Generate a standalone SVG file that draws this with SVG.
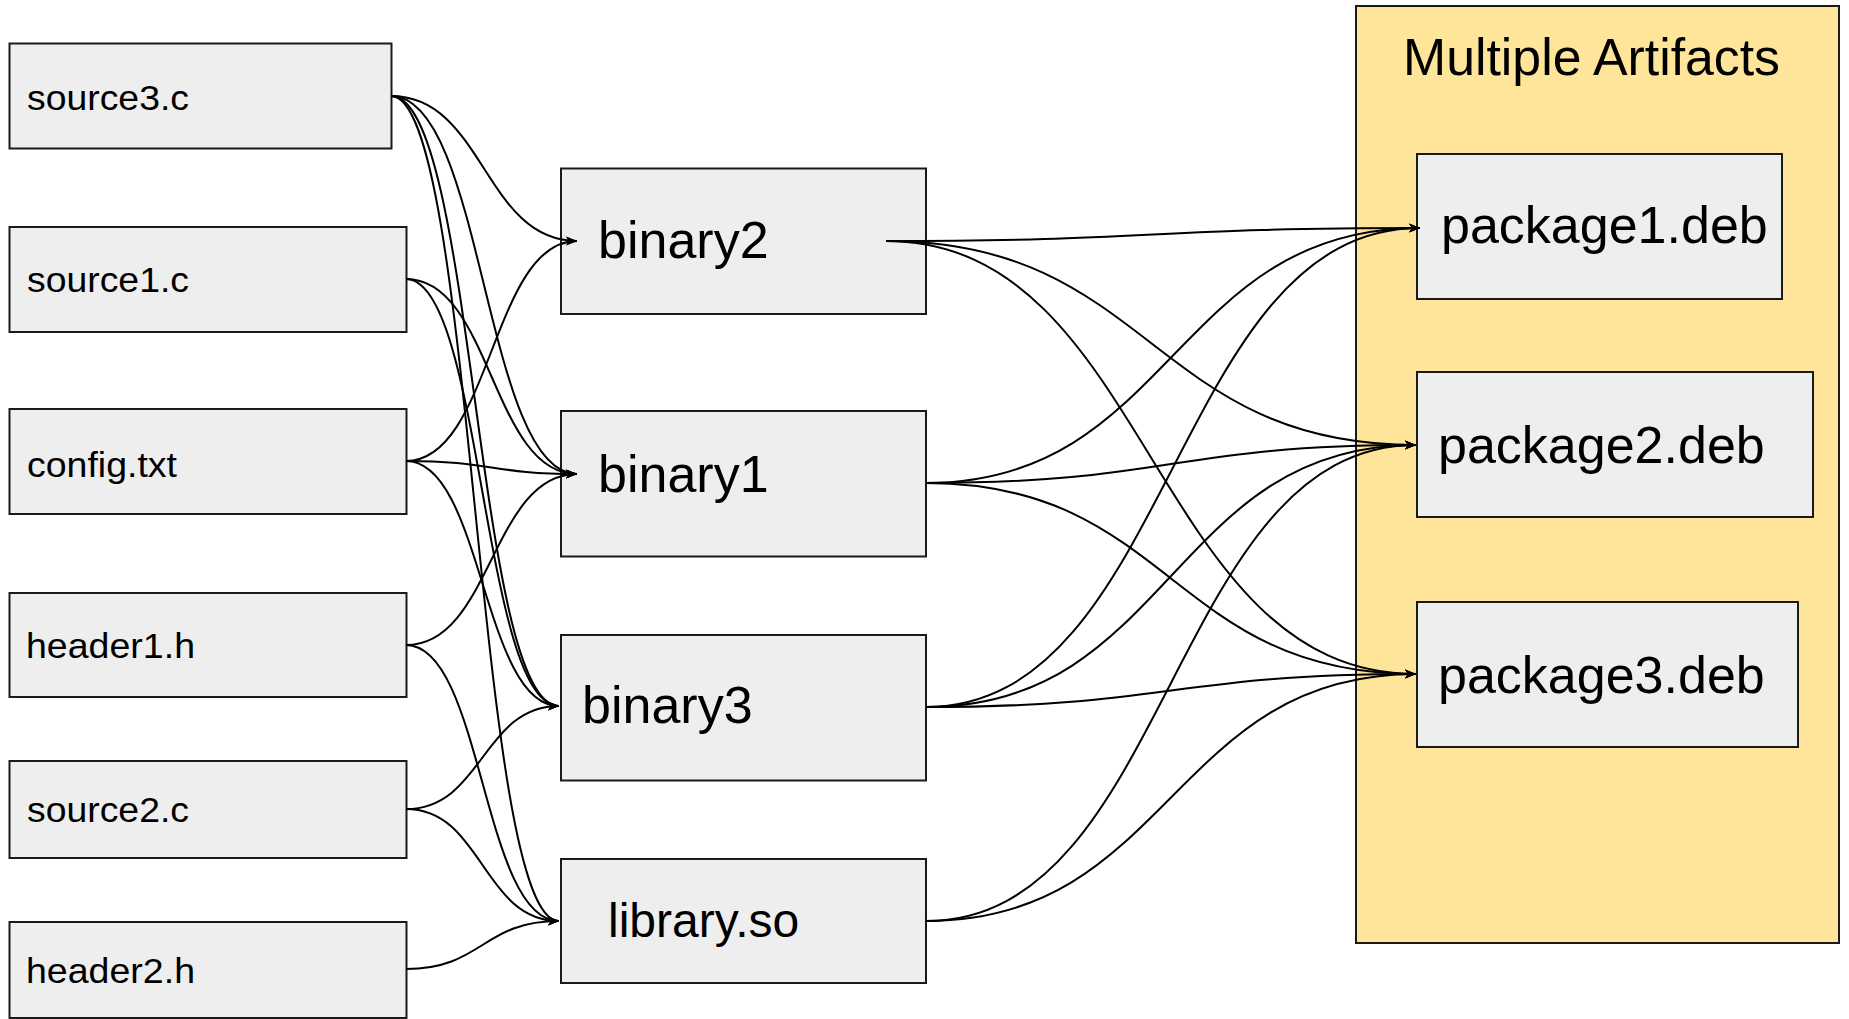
<svg xmlns="http://www.w3.org/2000/svg" width="1849" height="1019" viewBox="0 0 1849 1019">
  <style>
    .box { fill: #eeeeee; stroke: #1a1a1a; stroke-width: 2; }
    .group { fill: #ffe599; stroke: #1a1a1a; stroke-width: 2; }
    .src { font-family: "Liberation Sans", Arial, sans-serif; font-size: 35px; fill: #000; }
    .big { font-family: "Liberation Sans", Arial, sans-serif; font-size: 52px; fill: #000; }
    .edge { fill: none; stroke: #000; stroke-width: 2; marker-end: url(#arrow); }
  </style>
  <defs>
    <marker id="arrow" markerUnits="userSpaceOnUse" markerWidth="12" markerHeight="10" refX="11" refY="5" orient="auto">
      <path d="M0,0.5 L11,5 L0,9.5 L3,5 z" fill="#000"/>
    </marker>
  </defs>

  <rect width="1849" height="1019" fill="#ffffff"/>

  <!-- artifact container -->
  <g id="artifacts">
    <rect class="group" x="1356" y="6" width="483" height="937"/>
    <text class="big" x="1403" y="75" textLength="377" lengthAdjust="spacingAndGlyphs">Multiple Artifacts</text>
  </g>

  <!-- inputs -->
  <g id="source3">
    <rect class="box" x="9.5" y="43.5" width="382" height="105"/>
    <text class="src" x="27" y="110" textLength="162" lengthAdjust="spacingAndGlyphs">source3.c</text>
  </g>
  <g id="source1">
    <rect class="box" x="9.5" y="227" width="397" height="105"/>
    <text class="src" x="27" y="292" textLength="162" lengthAdjust="spacingAndGlyphs">source1.c</text>
  </g>
  <g id="config">
    <rect class="box" x="9.5" y="409" width="397" height="105"/>
    <text class="src" x="27" y="477" textLength="150" lengthAdjust="spacingAndGlyphs">config.txt</text>
  </g>
  <g id="header1">
    <rect class="box" x="9.5" y="593" width="397" height="104"/>
    <text class="src" x="26" y="658" textLength="169" lengthAdjust="spacingAndGlyphs">header1.h</text>
  </g>
  <g id="source2">
    <rect class="box" x="9.5" y="761" width="397" height="97"/>
    <text class="src" x="27" y="822" textLength="162" lengthAdjust="spacingAndGlyphs">source2.c</text>
  </g>
  <g id="header2">
    <rect class="box" x="9.5" y="922" width="397" height="96"/>
    <text class="src" x="26" y="983" textLength="169" lengthAdjust="spacingAndGlyphs">header2.h</text>
  </g>

  <!-- build outputs -->
  <g id="binary2">
    <rect class="box" x="561" y="168.5" width="365" height="145.5"/>
    <text class="big" x="598" y="258">binary2</text>
  </g>
  <g id="binary1">
    <rect class="box" x="561" y="411" width="365" height="145.5"/>
    <text class="big" x="598" y="492">binary1</text>
  </g>
  <g id="binary3">
    <rect class="box" x="561" y="635" width="365" height="145.5"/>
    <text class="big" x="582" y="723">binary3</text>
  </g>
  <g id="library">
    <rect class="box" x="561" y="859" width="365" height="124"/>
    <text class="big" x="608" y="937" style="font-size:48px">library.so</text>
  </g>

  <!-- packages -->
  <g id="package1">
    <rect class="box" x="1417" y="154" width="365" height="145"/>
    <text class="big" x="1441" y="243">package1.deb</text>
  </g>
  <g id="package2">
    <rect class="box" x="1417" y="372" width="396" height="145"/>
    <text class="big" x="1438" y="463">package2.deb</text>
  </g>
  <g id="package3">
    <rect class="box" x="1417" y="602" width="381" height="145"/>
    <text class="big" x="1438" y="693">package3.deb</text>
  </g>

  <!-- connectors -->
  <g id="connectors">
    <path class="edge" d="M391,96 C484,96 484,241 577,241"/>
    <path class="edge" d="M391,96 C484,96 484,474 577,474"/>
    <path class="edge" d="M391,96 C475,96 475,706 559,706"/>
    <path class="edge" d="M391,96 C475,96 475,921 559,921"/>
    <path class="edge" d="M406,279 C491.5,279 491.5,474 577,474"/>
    <path class="edge" d="M406,279 C482.5,279 482.5,706 559,706"/>
    <path class="edge" d="M406,461 C491.5,461 491.5,241 577,241"/>
    <path class="edge" d="M406,461 C491.5,461 491.5,474 577,474"/>
    <path class="edge" d="M406,461 C482.5,461 482.5,706 559,706"/>
    <path class="edge" d="M406,645 C491.5,645 491.5,474 577,474"/>
    <path class="edge" d="M406,645 C482.5,645 482.5,921 559,921"/>
    <path class="edge" d="M406,809 C482.5,809 482.5,706 559,706"/>
    <path class="edge" d="M406,809 C482.5,809 482.5,921 559,921"/>
    <path class="edge" d="M406,969 C482.5,969 482.5,921 559,921"/>

    <path class="edge" d="M886,241 C1153,241 1153,228 1420,228"/>
    <path class="edge" d="M886,241 C1151,241 1151,445 1416,445"/>
    <path class="edge" d="M886,241 C1151,241 1151,674 1416,674"/>
    <path class="edge" d="M926,483 C1173,483 1173,228 1420,228"/>
    <path class="edge" d="M926,483 C1171,483 1171,445 1416,445"/>
    <path class="edge" d="M926,483 C1171,483 1171,674 1416,674"/>
    <path class="edge" d="M926,707 C1173,707 1173,228 1420,228"/>
    <path class="edge" d="M926,707 C1171,707 1171,445 1416,445"/>
    <path class="edge" d="M926,707 C1171,707 1171,674 1416,674"/>
    <path class="edge" d="M926,921 C1171,921 1171,445 1416,445"/>
    <path class="edge" d="M926,921 C1171,921 1171,674 1416,674"/>
  </g>
</svg>
